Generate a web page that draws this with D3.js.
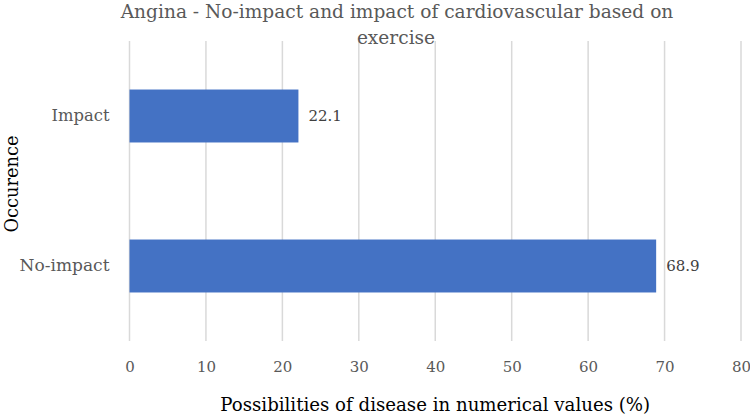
<!DOCTYPE html>
<html>
<head>
<meta charset="utf-8">
<script src="https://cdn.jsdelivr.net/npm/d3@7"></script>
<style>
  html, body { margin: 0; padding: 0; background: #fff; }
  svg { display: block; }
</style>
</head>
<body>
<svg id="chart" width="750" height="418"></svg>
<script>
// ---- data ----
const categories = ["Impact", "No-impact"];
const values = [22.1, 68.9];
const xTicks = [0, 10, 20, 30, 40, 50, 60, 70, 80];
const titleLines = ["Angina - No-impact and impact of cardiovascular based on", "exercise"];
const xTitle = "Possibilities of disease in numerical values (%)";
const yTitle = "Occurence";

const FONT = "'DejaVu Serif', 'Liberation Serif', 'Times New Roman', serif";
const W = 750, H = 418;
const margin = { left: 129.5, right: 9, top: 41, bottom: 77 };
const svg = d3.select("#chart").attr("font-family", FONT);

const x = d3.scaleLinear().domain([0, 80]).range([margin.left, W - margin.right]);
const y = d3.scaleBand().domain(categories).range([margin.top, H - margin.bottom])
  .paddingInner(0.647).paddingOuter(0.3235);

const grey = "#595959";

// helper: size text to a target width
function fit(sel, targetW) {
  const node = sel.node();
  const fs = parseFloat(sel.attr("font-size"));
  const w = node.getComputedTextLength();
  if (w > 0) sel.attr("font-size", (fs * targetW / w).toFixed(2));
  return sel;
}

// gridlines
svg.append("g").selectAll("line").data(xTicks).join("line")
  .attr("x1", d => x(d)).attr("x2", d => x(d))
  .attr("y1", margin.top).attr("y2", H - margin.bottom)
  .attr("stroke", "#d9d9d9").attr("stroke-width", 1.5);

// x axis tick labels via d3 axis
const xAxis = svg.append("g")
  .attr("transform", `translate(0,${H - margin.bottom})`)
  .call(d3.axisBottom(x).tickValues(xTicks).tickSize(0).tickPadding(26));
xAxis.attr("font-family", FONT);
xAxis.select(".domain").remove();
xAxis.selectAll("text").attr("font-size", 15).attr("fill", grey).attr("dy", "0.32em");

// y axis category labels
const yAxis = svg.append("g")
  .attr("transform", `translate(${margin.left},0)`)
  .call(d3.axisLeft(y).tickSize(0).tickPadding(20));
yAxis.attr("font-family", FONT);
yAxis.select(".domain").remove();
yAxis.selectAll("text").attr("font-size", 16).attr("fill", grey);
yAxis.selectAll("text").filter(d => d === "No-impact").each(function() { fit(d3.select(this), 90); });
yAxis.selectAll("text").filter(d => d === "Impact").each(function() { fit(d3.select(this), 58); });

// bars
svg.append("g").selectAll("rect").data(categories).join("rect")
  .attr("x", x(0))
  .attr("y", d => y(d))
  .attr("width", (d, i) => x(values[i]) - x(0))
  .attr("height", y.bandwidth())
  .attr("fill", "#4472C4");

// data labels
svg.append("g").selectAll("text").data(categories).join("text")
  .attr("x", (d, i) => x(values[i]) + 10)
  .attr("y", d => y(d) + y.bandwidth() / 2)
  .attr("dy", "0.35em")
  .attr("font-size", 15)
  .attr("fill", "#404040")
  .text((d, i) => values[i].toFixed(1));

// title
const t1 = svg.append("text").attr("x", 397).attr("y", 18).attr("text-anchor", "middle")
  .attr("font-size", 17).attr("fill", grey).text(titleLines[0]);
fit(t1, 553);
const fsT = t1.attr("font-size");
svg.append("text").attr("x", 396).attr("y", 44).attr("text-anchor", "middle")
  .attr("font-size", fsT).attr("fill", grey).text(titleLines[1]);

// x axis title
const xt = svg.append("text").attr("x", (x(0) + x(80)) / 2).attr("y", 411).attr("text-anchor", "middle")
  .attr("font-size", 17).attr("fill", "#000").text(xTitle);
fit(xt, 430);

// y axis title
const yt = svg.append("text")
  .attr("transform", `translate(18,${(margin.top + H - margin.bottom) / 2 - 7}) rotate(-90)`)
  .attr("text-anchor", "middle").attr("font-size", 17).attr("fill", "#000").text(yTitle);
fit(yt, 97);
</script>
</body>
</html>
